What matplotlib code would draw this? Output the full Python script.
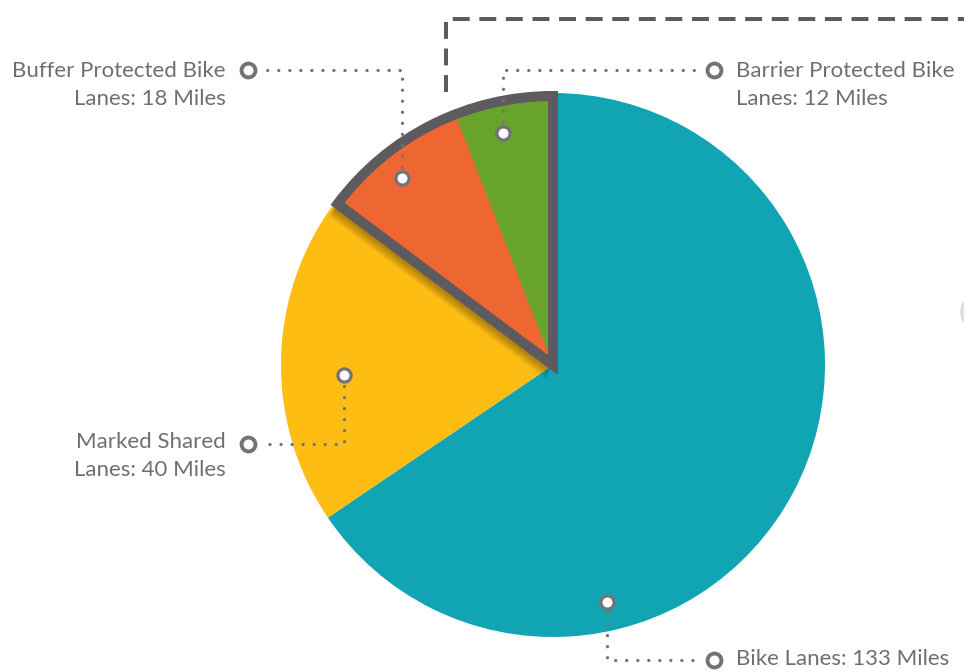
import matplotlib.pyplot as plt
from matplotlib.patches import Wedge, Ellipse

# data
categories = ['Bike Lanes', 'Marked Shared\nLanes', 'Buffer Protected Bike\nLanes', 'Barrier Protected Bike\nLanes']
miles = [133, 40, 18, 12]
colors = ['#11a5b4', '#fdbd13', '#ee6733', '#68a32c']

W, H = 964, 672
def Y(py):
    return H - py

text_gray = '#706e73'
line_gray = '#747277'
outline_gray = '#5e5b60'

fig = plt.figure(figsize=(W / 100, H / 100), dpi=100)
ax = fig.add_axes([0, 0, 1, 1])

cx, cy, r = 553, Y(365), 272
wedges, _ = ax.pie(miles, colors=colors, startangle=90, counterclock=False,
                   center=(cx, cy), radius=r, explode=[0, 0, 0.02, 0.02],
                   wedgeprops=dict(linewidth=0))
ax.set_xlim(0, W)
ax.set_ylim(0, H)
ax.set_aspect('equal')
ax.axis('off')

for w in wedges[:2]:
    w.set_zorder(1)
for w in wedges[2:]:
    w.set_zorder(3)

# pulled-out group (orange + green): soft shadow and outline
c2 = wedges[2].center
t1 = wedges[3].theta1
t2 = wedges[2].theta2
for i in range(12):
    sh = Wedge((c2[0] - 0.5 - i * 0.5, c2[1] - 1.5 - i * 1.2), r, t1, t2,
               facecolor='black', alpha=0.045, linewidth=0, zorder=2)
    ax.add_patch(sh)
ax.add_patch(Wedge(c2, r - 3, t1, t2, fill=False, edgecolor=outline_gray,
                   linewidth=7.2, joinstyle='miter', zorder=4))

# faint shape at the right edge
ax.add_patch(Ellipse((972, Y(312)), 24, 30, facecolor='#d8d8d8', edgecolor='none', alpha=0.8))

# dashed frame, partly visible
ax.plot([446, 446, W + 10], [Y(92), Y(19), Y(19)], color=outline_gray, linewidth=2.9,
        linestyle=(0, (4.2, 2.4)), solid_joinstyle='miter', zorder=0)

# callouts: (dot inside slice, elbow, ring by label, text pos, ha)
callouts = [
    ((607, 602), (607, 660), (714, 660), (736, 659), 'left'),
    ((344, 375), (344, 444), (248, 444), (226, 456), 'right'),
    ((402, 178), (402, 70), (248, 70), (226, 85), 'right'),
    ((503, 133), (503, 70), (714, 70), (736, 85), 'left'),
]

for name, val, (dot, elb, ring, tpos, ha) in zip(categories, miles, callouts):
    end_x = ring[0] - 14 if ha == 'left' else ring[0] + 14
    ax.plot([dot[0], elb[0], end_x], [Y(dot[1]), Y(elb[1]), Y(ring[1])],
            color=line_gray, linewidth=2.4, linestyle=(0, (0.01, 3.3)),
            dash_capstyle='round', zorder=5)
    ax.plot(dot[0], Y(dot[1]), 'o', markersize=9.5, markerfacecolor='white',
            markeredgecolor=line_gray, markeredgewidth=2.3, zorder=6)
    ax.plot(ring[0], Y(ring[1]), 'o', markersize=10, markerfacecolor='white',
            markeredgecolor=line_gray, markeredgewidth=2.8, zorder=6)
    ax.text(tpos[0], Y(tpos[1]), f'{name}: {val} Miles', ha=ha, va='center',
            multialignment=ha, fontsize=16, color=text_gray, family='Lato',
            linespacing=1.45)

fig.savefig('out.png', dpi=100)
